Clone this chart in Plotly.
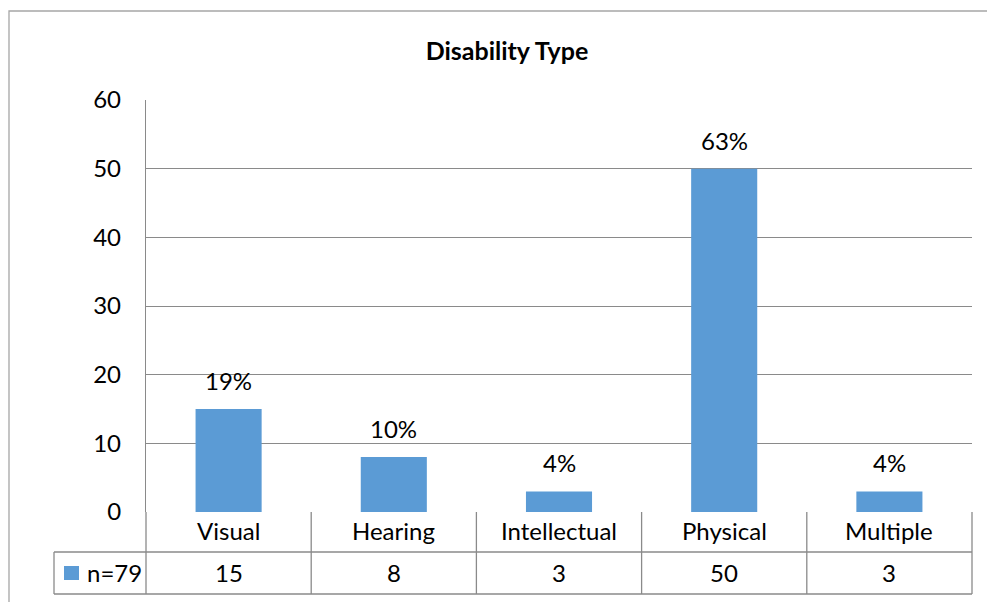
import plotly.graph_objects as go

# Disability type counts (n=79) with their shares
categories = ["Visual", "Hearing", "Intellectual", "Physical", "Multiple"]
counts = [15, 8, 3, 50, 3]
shares = ["19%", "10%", "4%", "63%", "4%"]
series_name = "n=79"
y_ticks = [0, 10, 20, 30, 40, 50, 60]

BAR = "#5B9BD5"
GRID = "#8A8A8A"
FONT = "Lato"
FS = 24

W, H = 987, 602
ML, MR, MT, MB = 146, 15, 100, 90
plot_w = W - ML - MR
plot_h = H - MT - MB

def px_x(px):
    return (px - ML) / plot_w

def px_y(py):
    return (H - MB - py) / plot_h

n = len(categories)
xs = list(range(n))

fig = go.Figure(go.Bar(
    x=xs, y=counts, marker=dict(color=BAR, line=dict(width=0)),
    width=0.4, name=series_name, hoverinfo="x+y",
))

txt = dict(family=FONT, size=FS, color="#000")
annotations = []
# share labels above bars
for x, v, s in zip(xs, counts, shares):
    annotations.append(dict(x=x, y=v, xref="x", yref="y", text=s, showarrow=False,
                            xanchor="center", yanchor="bottom", yshift=12, font=txt))

# data table under the axis
row1_bot = px_y(552)
row2_bot = px_y(594)
legend_left = px_x(54)
shapes = []
line = dict(color=GRID, width=1.3)
for k in range(n + 1):
    xk = k / n
    shapes.append(dict(type="line", xref="paper", yref="paper", x0=xk, x1=xk,
                       y0=0, y1=row2_bot, line=line))
shapes.append(dict(type="line", xref="paper", yref="paper", x0=legend_left, x1=1,
                   y0=row1_bot, y1=row1_bot, line=line))
shapes.append(dict(type="line", xref="paper", yref="paper", x0=legend_left, x1=1,
                   y0=row2_bot, y1=row2_bot, line=line))
shapes.append(dict(type="line", xref="paper", yref="paper", x0=legend_left, x1=legend_left,
                   y0=row1_bot, y1=row2_bot, line=line))
# legend key square
shapes.append(dict(type="rect", xref="paper", yref="paper",
                   x0=px_x(64), x1=px_x(79), y0=px_y(580), y1=px_y(566),
                   fillcolor=BAR, line=dict(width=0)))
# chart area border
shapes.append(dict(type="rect", xref="paper", yref="paper",
                   x0=px_x(9), x1=px_x(1000), y0=px_y(620), y1=px_y(11),
                   line=dict(color="#A6A6A6", width=1.3), fillcolor="rgba(0,0,0,0)"))

row1_mid = (0 + row1_bot) / 2
row2_mid = (row1_bot + row2_bot) / 2
for k, (c, v) in enumerate(zip(categories, counts)):
    xc = (k + 0.5) / n
    annotations.append(dict(x=xc, y=row1_mid, xref="paper", yref="paper", text=c,
                            xanchor="center", yanchor="middle", yshift=2,
                            showarrow=False, font=txt))
    annotations.append(dict(x=xc, y=row2_mid, xref="paper", yref="paper", text=str(v),
                            xanchor="center", yanchor="middle", yshift=1,
                            showarrow=False, font=txt))
annotations.append(dict(x=px_x(85), y=row2_mid, xref="paper", yref="paper", text=series_name,
                        xanchor="left", yanchor="middle", yshift=1, showarrow=False, font=txt))

fig.update_layout(
    width=W, height=H,
    margin=dict(l=ML, r=MR, t=MT, b=MB),
    paper_bgcolor="white", plot_bgcolor="white",
    title=dict(text="<b>Disability Type</b>", x=507 / W, xanchor="center",
               y=1 - 51 / H, yanchor="middle",
               font=dict(family=FONT, size=25, color="#000")),
    showlegend=False,
    xaxis=dict(range=[-0.5, n - 0.5], showticklabels=False, showgrid=False,
               zeroline=False, showline=False, ticks="", fixedrange=True),
    yaxis=dict(range=[0, 60], tickvals=y_ticks, showgrid=True, gridcolor=GRID,
               gridwidth=1.3, zeroline=False, showline=True, linecolor=GRID,
               linewidth=1.3, ticks="", ticklabelstandoff=19, tickfont=txt),
    shapes=shapes,
    annotations=annotations,
)

fig.write_html("out.html")
